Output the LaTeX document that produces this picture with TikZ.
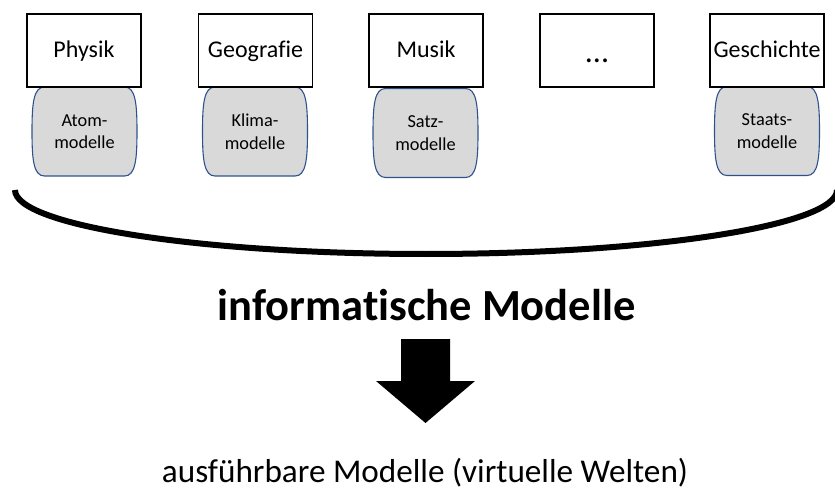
\documentclass[tikz,border=0pt]{standalone}
\usepackage{fontspec}
\setmainfont{Carlito}[Ligatures=CommonOff]
\definecolor{modelfill}{HTML}{D9D9D9}
\definecolor{modeledge}{HTML}{2F528F}
\tikzset{
  subject/.style={draw=black, line width=1.4pt, fill=white, minimum width=114pt,
    minimum height=73pt, inner sep=2pt, font=\fontsize{24}{28}\selectfont,
    text height=15pt, text depth=0pt},
  modelshape/.style={fill=modelfill, draw=modeledge, line width=1.1pt},
  modeltext/.style={align=center, inner sep=0pt, font=\fontsize{18.3}{22.5}\selectfont},
  brace/.style={draw=black, line width=6pt},
}
% outline of a rounded "barrel" model shape around a centre point
\newcommand\modeloutline[1]{%
  \path[modelshape, shift={(#1)}]
    (-40,44.5) -- (40,44.5)
    .. controls (51,44.5) and (52.5,28) .. (52.5,0)
    .. controls (52.5,-28) and (51,-44.5) .. (40,-44.5)
    -- (-40,-44.5)
    .. controls (-51,-44.5) and (-52.5,-28) .. (-52.5,0)
    .. controls (-52.5,28) and (-51,44.5) .. (-40,44.5) -- cycle;}
\begin{document}
\begin{tikzpicture}[x=1pt, y=1pt]
\useasboundingbox (0,0) rectangle (835,-489);

% model shapes below the subjects
\coordinate (atomc) at (84.5,-131.5);
\coordinate (klimac) at (255,-131.5);
\coordinate (satzc) at (425.5,-133);
\coordinate (staatsc) at (767,-131);
\modeloutline{atomc}
\modeloutline{klimac}
\modeloutline{satzc}
\modeloutline{staatsc}
\node[modeltext] (atom) at (atomc) {Atom-\\modelle};
\node[modeltext] (klima) at (klimac) {Klima-\\modelle};
\node[modeltext] (satz) at (satzc) {Satz-\\modelle};
\node[modeltext] (staats) at (staatsc) {Staats-\\modelle};

% subject boxes
\node[subject] (phys) at (84,-50.5) {Physik};
\node[subject] (geo) at (255.5,-50.5) {Geografie};
\node[subject] (mus) at (426,-50.5) {Musik};
\node[subject, font=\fontsize{32}{36}\selectfont, text height=25pt] (dots) at (597,-50.5) {...};
\node[subject] (gesch) at (767,-50.5) {Geschichte};

% brace collecting all subjects
\coordinate (braceL) at (15,-190);
\draw[brace] (braceL) arc[start angle=180, end angle=360, x radius=411, y radius=64];

% headline
\node[anchor=base, inner sep=0pt, font=\fontsize{44.5}{50}\selectfont\bfseries] (title) at (426.5,-320) {informatische Modelle};

% block arrow
\fill[black] (401,-339) -- (450,-339) -- (450,-381) -- (475,-381) -- (425.5,-423)
  -- (376,-381) -- (401,-381) -- cycle;

% result
\node[anchor=base, inner sep=0pt, font=\fontsize{33.2}{38}\selectfont] (result) at (425,-482) {ausführbare Modelle (virtuelle Welten)};
\end{tikzpicture}
\end{document}
